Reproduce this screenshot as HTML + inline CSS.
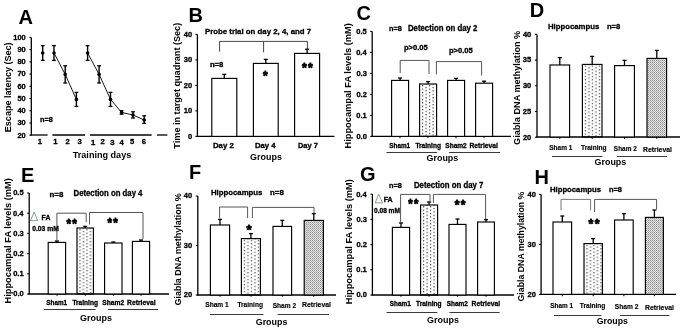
<!DOCTYPE html>
<html><head><meta charset="utf-8"><style>
html,body{margin:0;padding:0;background:#fff;}
svg{display:block;will-change:transform;}
text{font-family:"Liberation Sans",sans-serif;font-weight:bold;}
</style></head><body>
<svg width="685" height="330" viewBox="0 0 685 330">
<rect width="685" height="330" fill="#fff"/>
<defs>
<pattern id="sp" width="7" height="6.6" patternUnits="userSpaceOnUse">
<rect x="1.0" y="0.8" width="1.1" height="1.1" fill="#555"/><rect x="4.5" y="2.45" width="1.1" height="1.1" fill="#555"/>
<rect x="1.0" y="4.1" width="1.1" height="1.1" fill="#555"/><rect x="4.5" y="5.75" width="1.1" height="1.1" fill="#555"/>
</pattern>
<pattern id="dn" width="2" height="2" patternUnits="userSpaceOnUse">
<rect width="2" height="2" fill="#e4e4e4"/><rect width="1" height="1" fill="#8c8c8c"/><rect x="1" y="1" width="1" height="1" fill="#b4b4b4"/>
</pattern>
</defs>
<text x="18.6" y="23.6" font-size="20">A</text>
<text x="188.4" y="22.2" font-size="20">B</text>
<text x="356.6" y="19.6" font-size="20">C</text>
<text x="529.8" y="17.4" font-size="20">D</text>
<text x="20.9" y="182.0" font-size="20">E</text>
<text x="188.9" y="178.5" font-size="20">F</text>
<text x="360.0" y="181.0" font-size="20">G</text>
<text x="534.6" y="183.6" font-size="20">H</text>
<line x1="31.3" y1="37.4" x2="31.3" y2="135.6" stroke="#000" stroke-width="1.3"/>
<line x1="29.4" y1="135.2" x2="31.3" y2="135.2" stroke="#000" stroke-width="1.1"/>
<text transform="translate(17.43,137.50) scale(0.980,1)" font-size="7.6" stroke="#000" stroke-width="0.3">20</text>
<line x1="29.4" y1="122.975" x2="31.3" y2="122.975" stroke="#000" stroke-width="1.1"/>
<text transform="translate(17.43,125.27) scale(0.980,1)" font-size="7.6" stroke="#000" stroke-width="0.3">30</text>
<line x1="29.4" y1="110.75" x2="31.3" y2="110.75" stroke="#000" stroke-width="1.1"/>
<text transform="translate(17.43,113.05) scale(0.980,1)" font-size="7.6" stroke="#000" stroke-width="0.3">40</text>
<line x1="29.4" y1="98.52499999999999" x2="31.3" y2="98.52499999999999" stroke="#000" stroke-width="1.1"/>
<text transform="translate(17.43,100.82) scale(0.980,1)" font-size="7.6" stroke="#000" stroke-width="0.3">50</text>
<line x1="29.4" y1="86.3" x2="31.3" y2="86.3" stroke="#000" stroke-width="1.1"/>
<text transform="translate(17.43,88.60) scale(0.980,1)" font-size="7.6" stroke="#000" stroke-width="0.3">60</text>
<line x1="29.4" y1="74.07499999999999" x2="31.3" y2="74.07499999999999" stroke="#000" stroke-width="1.1"/>
<text transform="translate(17.43,76.37) scale(0.980,1)" font-size="7.6" stroke="#000" stroke-width="0.3">70</text>
<line x1="29.4" y1="61.849999999999994" x2="31.3" y2="61.849999999999994" stroke="#000" stroke-width="1.1"/>
<text transform="translate(17.43,64.15) scale(0.980,1)" font-size="7.6" stroke="#000" stroke-width="0.3">80</text>
<line x1="29.4" y1="49.625" x2="31.3" y2="49.625" stroke="#000" stroke-width="1.1"/>
<text transform="translate(17.43,51.92) scale(0.980,1)" font-size="7.6" stroke="#000" stroke-width="0.3">90</text>
<line x1="29.4" y1="37.4" x2="31.3" y2="37.4" stroke="#000" stroke-width="1.1"/>
<text transform="translate(13.29,39.70) scale(0.980,1)" font-size="7.6" stroke="#000" stroke-width="0.3">100</text>
<line x1="30.7" y1="135" x2="47.6" y2="135" stroke="#000" stroke-width="1.3"/>
<line x1="52.4" y1="135" x2="85" y2="135" stroke="#000" stroke-width="1.3"/>
<line x1="90" y1="135" x2="151.6" y2="135" stroke="#000" stroke-width="1.3"/>
<line x1="157" y1="135" x2="167.4" y2="135" stroke="#000" stroke-width="1.3"/>
<text transform="translate(37.73,144.20) scale(1.000,1)" font-size="7.7" fill="#000" stroke="#000" stroke-width="0.3">1</text>
<text transform="translate(53.33,144.20) scale(1.000,1)" font-size="7.7" fill="#000" stroke="#000" stroke-width="0.3">1</text>
<text transform="translate(65.48,144.20) scale(1.000,1)" font-size="7.7" fill="#000" stroke="#000" stroke-width="0.3">2</text>
<text transform="translate(77.51,144.20) scale(1.000,1)" font-size="7.7" fill="#000" stroke="#000" stroke-width="0.3">3</text>
<text transform="translate(90.93,144.80) scale(1.000,1)" font-size="7.7" fill="#000" stroke="#000" stroke-width="0.3">1</text>
<text transform="translate(100.48,144.20) scale(1.000,1)" font-size="7.7" fill="#000" stroke="#000" stroke-width="0.3">2</text>
<text transform="translate(110.31,145.10) scale(1.000,1)" font-size="7.7" fill="#000" stroke="#000" stroke-width="0.3">3</text>
<text transform="translate(119.42,145.00) scale(1.000,1)" font-size="7.7" fill="#000" stroke="#000" stroke-width="0.3">4</text>
<text transform="translate(130.05,144.20) scale(1.000,1)" font-size="7.7" fill="#000" stroke="#000" stroke-width="0.3">5</text>
<text transform="translate(141.66,144.20) scale(1.000,1)" font-size="7.7" fill="#000" stroke="#000" stroke-width="0.3">6</text>
<text transform="translate(72.75,157.90) scale(1.010,1)" font-size="9" fill="#000">Training days</text>
<text transform="translate(39.97,122.30) scale(0.963,1)" font-size="7.6" fill="#000" stroke="#000" stroke-width="0.3">n=8</text>
<polyline points="54,53.0 65.2,74.4 76.4,99.4" fill="none" stroke="#000" stroke-width="0.9"/>
<polyline points="87.6,53.0 99.1,74.4 110.5,99.4 121.6,112.4 133,115.0 144.2,120.0" fill="none" stroke="#000" stroke-width="0.9"/>
<line x1="42.7" y1="45.6" x2="42.7" y2="60.4" stroke="#000" stroke-width="1.4"/>
<line x1="40.800000000000004" y1="45.6" x2="44.6" y2="45.6" stroke="#000" stroke-width="1.3"/>
<line x1="40.800000000000004" y1="60.4" x2="44.6" y2="60.4" stroke="#000" stroke-width="1.3"/>
<circle cx="42.7" cy="53.0" r="1.8" fill="#000"/>
<line x1="54" y1="45.6" x2="54" y2="60.4" stroke="#000" stroke-width="1.4"/>
<line x1="52.1" y1="45.6" x2="55.9" y2="45.6" stroke="#000" stroke-width="1.3"/>
<line x1="52.1" y1="60.4" x2="55.9" y2="60.4" stroke="#000" stroke-width="1.3"/>
<circle cx="54" cy="53.0" r="1.8" fill="#000"/>
<line x1="65.2" y1="65.8" x2="65.2" y2="83.0" stroke="#000" stroke-width="1.4"/>
<line x1="63.300000000000004" y1="65.8" x2="67.10000000000001" y2="65.8" stroke="#000" stroke-width="1.3"/>
<line x1="63.300000000000004" y1="83.0" x2="67.10000000000001" y2="83.0" stroke="#000" stroke-width="1.3"/>
<circle cx="65.2" cy="74.4" r="1.8" fill="#000"/>
<line x1="76.4" y1="92.4" x2="76.4" y2="106.4" stroke="#000" stroke-width="1.4"/>
<line x1="74.5" y1="92.4" x2="78.30000000000001" y2="92.4" stroke="#000" stroke-width="1.3"/>
<line x1="74.5" y1="106.4" x2="78.30000000000001" y2="106.4" stroke="#000" stroke-width="1.3"/>
<circle cx="76.4" cy="99.4" r="1.8" fill="#000"/>
<line x1="87.6" y1="45.6" x2="87.6" y2="60.4" stroke="#000" stroke-width="1.4"/>
<line x1="85.69999999999999" y1="45.6" x2="89.5" y2="45.6" stroke="#000" stroke-width="1.3"/>
<line x1="85.69999999999999" y1="60.4" x2="89.5" y2="60.4" stroke="#000" stroke-width="1.3"/>
<circle cx="87.6" cy="53.0" r="1.8" fill="#000"/>
<line x1="99.1" y1="65.8" x2="99.1" y2="83.0" stroke="#000" stroke-width="1.4"/>
<line x1="97.19999999999999" y1="65.8" x2="101.0" y2="65.8" stroke="#000" stroke-width="1.3"/>
<line x1="97.19999999999999" y1="83.0" x2="101.0" y2="83.0" stroke="#000" stroke-width="1.3"/>
<circle cx="99.1" cy="74.4" r="1.8" fill="#000"/>
<line x1="110.5" y1="92.4" x2="110.5" y2="106.4" stroke="#000" stroke-width="1.4"/>
<line x1="108.6" y1="92.4" x2="112.4" y2="92.4" stroke="#000" stroke-width="1.3"/>
<line x1="108.6" y1="106.4" x2="112.4" y2="106.4" stroke="#000" stroke-width="1.3"/>
<circle cx="110.5" cy="99.4" r="1.8" fill="#000"/>
<line x1="121.6" y1="110.6" x2="121.6" y2="114.2" stroke="#000" stroke-width="1.4"/>
<line x1="119.69999999999999" y1="110.6" x2="123.5" y2="110.6" stroke="#000" stroke-width="1.3"/>
<line x1="119.69999999999999" y1="114.2" x2="123.5" y2="114.2" stroke="#000" stroke-width="1.3"/>
<circle cx="121.6" cy="112.4" r="1.8" fill="#000"/>
<line x1="133" y1="111.8" x2="133" y2="118.0" stroke="#000" stroke-width="1.4"/>
<line x1="131.1" y1="111.8" x2="134.9" y2="111.8" stroke="#000" stroke-width="1.3"/>
<line x1="131.1" y1="118.0" x2="134.9" y2="118.0" stroke="#000" stroke-width="1.3"/>
<circle cx="133" cy="115.0" r="1.8" fill="#000"/>
<line x1="144.2" y1="115.8" x2="144.2" y2="123.4" stroke="#000" stroke-width="1.4"/>
<line x1="142.29999999999998" y1="115.8" x2="146.1" y2="115.8" stroke="#000" stroke-width="1.3"/>
<line x1="142.29999999999998" y1="123.4" x2="146.1" y2="123.4" stroke="#000" stroke-width="1.3"/>
<circle cx="144.2" cy="120.0" r="1.8" fill="#000"/>
<text transform="translate(10.70,132.15) rotate(-90) scale(1.002,1)" font-size="9">Escape latency (Sec)</text>
<line x1="197.4" y1="34.4" x2="197.4" y2="137.0" stroke="#000" stroke-width="1.3"/>
<line x1="196.8" y1="136.4" x2="334.4" y2="136.4" stroke="#000" stroke-width="1.3"/>
<line x1="195.4" y1="136.4" x2="197.4" y2="136.4" stroke="#000" stroke-width="1.1"/>
<text transform="translate(187.92,138.70) scale(0.980,1)" font-size="7.7" stroke="#000" stroke-width="0.3">0</text>
<line x1="195.4" y1="110.9" x2="197.4" y2="110.9" stroke="#000" stroke-width="1.1"/>
<text transform="translate(183.73,113.20) scale(0.980,1)" font-size="7.7" stroke="#000" stroke-width="0.3">10</text>
<line x1="195.4" y1="85.4" x2="197.4" y2="85.4" stroke="#000" stroke-width="1.1"/>
<text transform="translate(183.73,87.70) scale(0.980,1)" font-size="7.7" stroke="#000" stroke-width="0.3">20</text>
<line x1="195.4" y1="59.900000000000006" x2="197.4" y2="59.900000000000006" stroke="#000" stroke-width="1.1"/>
<text transform="translate(183.73,62.20) scale(0.980,1)" font-size="7.7" stroke="#000" stroke-width="0.3">30</text>
<line x1="195.4" y1="34.400000000000006" x2="197.4" y2="34.400000000000006" stroke="#000" stroke-width="1.1"/>
<text transform="translate(183.73,36.70) scale(0.980,1)" font-size="7.7" stroke="#000" stroke-width="0.3">40</text>
<line x1="224.3" y1="78.4" x2="224.3" y2="74.4" stroke="#000" stroke-width="1.3"/>
<line x1="222.3" y1="74.4" x2="226.3" y2="74.4" stroke="#000" stroke-width="1.3"/>
<rect x="211.8" y="78.4" width="25.0" height="58.0" fill="#fff" stroke="#000" stroke-width="1.15"/>
<line x1="265.8" y1="63.4" x2="265.8" y2="59.4" stroke="#000" stroke-width="1.3"/>
<line x1="263.8" y1="59.4" x2="267.8" y2="59.4" stroke="#000" stroke-width="1.3"/>
<rect x="253.4" y="63.4" width="24.799999999999983" height="73.0" fill="#fff" stroke="#000" stroke-width="1.15"/>
<line x1="307.1" y1="53.4" x2="307.1" y2="49.2" stroke="#000" stroke-width="1.3"/>
<line x1="305.1" y1="49.2" x2="309.1" y2="49.2" stroke="#000" stroke-width="1.3"/>
<rect x="294.6" y="53.4" width="25.0" height="83.0" fill="#fff" stroke="#000" stroke-width="1.15"/>
<polyline points="219.6,51.6 219.6,41.4 307.4,41.4 307.4,49.2" fill="none" stroke="#444" stroke-width="1.0"/>
<line x1="263.6" y1="41.4" x2="263.6" y2="52.4" stroke="#444" stroke-width="1.0"/>
<text transform="translate(204.92,34.30) scale(0.981,1)" font-size="8.0" fill="#000" stroke="#000" stroke-width="0.3">Probe trial on day 2, 4, and 7</text>
<text transform="translate(209.94,67.10) scale(1.011,1)" font-size="7.6" fill="#000" stroke="#000" stroke-width="0.3">n=8</text>
<text transform="translate(262.91,79.84) scale(0.921,1)" font-size="13.0" stroke="#000" stroke-width="0.85" stroke-linejoin="round">*</text>
<text transform="translate(301.91,72.04) scale(0.935,1)" font-size="13.0" stroke="#000" stroke-width="0.85" stroke-linejoin="round">*</text>
<text transform="translate(307.95,72.04) scale(0.935,1)" font-size="13.0" stroke="#000" stroke-width="0.85" stroke-linejoin="round">*</text>
<text transform="translate(212.92,147.80) scale(1.033,1)" font-size="7.6" fill="#000" stroke="#000" stroke-width="0.3">Day 2</text>
<text transform="translate(254.93,147.80) scale(1.019,1)" font-size="7.6" fill="#000" stroke="#000" stroke-width="0.3">Day 4</text>
<text transform="translate(297.95,147.80) scale(0.983,1)" font-size="7.6" fill="#000" stroke="#000" stroke-width="0.3">Day 7</text>
<text transform="translate(250.08,160.00) scale(0.995,1)" font-size="9" fill="#000">Groups</text>
<text transform="translate(180.40,148.65) rotate(-90) scale(1.014,1)" font-size="9">Time in target quadrant (Sec)</text>
<line x1="372.2" y1="31.4" x2="372.2" y2="137.0" stroke="#000" stroke-width="1.3"/>
<line x1="371.59999999999997" y1="136.4" x2="511" y2="136.4" stroke="#000" stroke-width="1.3"/>
<line x1="370.2" y1="136.4" x2="372.2" y2="136.4" stroke="#000" stroke-width="1.1"/>
<text transform="translate(356.43,138.70) scale(0.980,1)" font-size="7.7" stroke="#000" stroke-width="0.3">0.0</text>
<line x1="370.2" y1="115.4" x2="372.2" y2="115.4" stroke="#000" stroke-width="1.1"/>
<text transform="translate(356.33,117.70) scale(0.980,1)" font-size="7.7" stroke="#000" stroke-width="0.3">0.1</text>
<line x1="370.2" y1="94.4" x2="372.2" y2="94.4" stroke="#000" stroke-width="1.1"/>
<text transform="translate(356.42,96.70) scale(0.980,1)" font-size="7.7" stroke="#000" stroke-width="0.3">0.2</text>
<line x1="370.2" y1="73.4" x2="372.2" y2="73.4" stroke="#000" stroke-width="1.1"/>
<text transform="translate(356.39,75.70) scale(0.980,1)" font-size="7.7" stroke="#000" stroke-width="0.3">0.3</text>
<line x1="370.2" y1="52.400000000000006" x2="372.2" y2="52.400000000000006" stroke="#000" stroke-width="1.1"/>
<text transform="translate(356.16,54.70) scale(0.980,1)" font-size="7.7" stroke="#000" stroke-width="0.3">0.4</text>
<line x1="370.2" y1="31.400000000000006" x2="372.2" y2="31.400000000000006" stroke="#000" stroke-width="1.1"/>
<text transform="translate(356.33,33.70) scale(0.980,1)" font-size="7.7" stroke="#000" stroke-width="0.3">0.5</text>
<line x1="400" y1="136.4" x2="400" y2="138.2" stroke="#000" stroke-width="1.0"/>
<line x1="428" y1="136.4" x2="428" y2="138.2" stroke="#000" stroke-width="1.0"/>
<line x1="456" y1="136.4" x2="456" y2="138.2" stroke="#000" stroke-width="1.0"/>
<line x1="484" y1="136.4" x2="484" y2="138.2" stroke="#000" stroke-width="1.0"/>
<line x1="400.1" y1="80.4" x2="400.1" y2="78.0" stroke="#000" stroke-width="1.3"/>
<line x1="398.1" y1="78.0" x2="402.1" y2="78.0" stroke="#000" stroke-width="1.3"/>
<rect x="391.6" y="80.4" width="17.0" height="56.0" fill="#fff" stroke="#000" stroke-width="1.15"/>
<pattern id="sp1" x="422.00" y="85.20" width="7" height="3.4" patternUnits="userSpaceOnUse"><rect x="0" y="0" width="1.2" height="1.2" fill="#3a3a3a"/><rect x="3.5" y="1.7" width="1.2" height="1.2" fill="#3a3a3a"/></pattern>
<line x1="428.1" y1="84.0" x2="428.1" y2="81.6" stroke="#000" stroke-width="1.3"/>
<line x1="426.1" y1="81.6" x2="430.1" y2="81.6" stroke="#000" stroke-width="1.3"/>
<rect x="419.6" y="84.0" width="17.0" height="52.400000000000006" fill="url(#sp1)" stroke="#000" stroke-width="1.15"/>
<line x1="456.1" y1="80.4" x2="456.1" y2="78.4" stroke="#000" stroke-width="1.3"/>
<line x1="454.1" y1="78.4" x2="458.1" y2="78.4" stroke="#000" stroke-width="1.3"/>
<rect x="447.6" y="80.4" width="17.0" height="56.0" fill="#fff" stroke="#000" stroke-width="1.15"/>
<line x1="484.1" y1="83.2" x2="484.1" y2="81.2" stroke="#000" stroke-width="1.3"/>
<line x1="482.1" y1="81.2" x2="486.1" y2="81.2" stroke="#000" stroke-width="1.3"/>
<rect x="475.6" y="83.2" width="17.0" height="53.2" fill="#fff" stroke="#000" stroke-width="1.15"/>
<polyline points="400.2,73.0 400.2,60.4 429,60.4 429,74.0" fill="none" stroke="#555" stroke-width="1.0"/>
<polyline points="436.4,74.4 436.4,61.6 481.6,61.6 481.6,75.6" fill="none" stroke="#555" stroke-width="1.0"/>
<text transform="translate(388.97,31.10) scale(0.938,1)" font-size="7.8" fill="#000" stroke="#000" stroke-width="0.3">n=8</text>
<text transform="translate(407.93,31.10) scale(0.954,1)" font-size="8.2" fill="#000" stroke="#000" stroke-width="0.3">Detection on day 2</text>
<text transform="translate(403.95,50.40) scale(1.025,1)" font-size="7.4" fill="#000" stroke="#000" stroke-width="0.3">p&gt;0.05</text>
<text transform="translate(448.95,52.80) scale(1.025,1)" font-size="7.4" fill="#000" stroke="#000" stroke-width="0.3">p&gt;0.05</text>
<text transform="translate(389.27,147.60) scale(0.909,1)" font-size="7.0" fill="#000" stroke="#000" stroke-width="0.3">Sham1</text>
<text transform="translate(415.38,147.60) scale(0.941,1)" font-size="7.0" fill="#000" stroke="#000" stroke-width="0.3">Training</text>
<text transform="translate(445.26,147.60) scale(0.939,1)" font-size="7.0" fill="#000" stroke="#000" stroke-width="0.3">Sham2</text>
<text transform="translate(469.40,147.60) scale(0.968,1)" font-size="7.0" fill="#000" stroke="#000" stroke-width="0.3">Retrieval</text>
<line x1="386.4" y1="152.5" x2="437" y2="152.5" stroke="#3a3a3a" stroke-width="1.0"/>
<line x1="449" y1="152.5" x2="500" y2="152.5" stroke="#3a3a3a" stroke-width="1.0"/>
<text transform="translate(426.48,160.60) scale(0.995,1)" font-size="9" fill="#000">Groups</text>
<text transform="translate(351.00,148.57) rotate(-90) scale(1.010,1)" font-size="9.2">Hippocampal FA levels (mM)</text>
<line x1="537.0" y1="34.4" x2="537.0" y2="137.6" stroke="#000" stroke-width="1.3"/>
<line x1="536.4" y1="137.0" x2="680" y2="137.0" stroke="#000" stroke-width="1.3"/>
<line x1="535.0" y1="137.2" x2="537.0" y2="137.2" stroke="#000" stroke-width="1.1"/>
<text transform="translate(522.93,139.50) scale(0.980,1)" font-size="7.7" stroke="#000" stroke-width="0.3">20</text>
<line x1="535.0" y1="111.49999999999999" x2="537.0" y2="111.49999999999999" stroke="#000" stroke-width="1.1"/>
<text transform="translate(522.83,113.80) scale(0.980,1)" font-size="7.7" stroke="#000" stroke-width="0.3">25</text>
<line x1="535.0" y1="85.79999999999998" x2="537.0" y2="85.79999999999998" stroke="#000" stroke-width="1.1"/>
<text transform="translate(522.93,88.10) scale(0.980,1)" font-size="7.7" stroke="#000" stroke-width="0.3">30</text>
<line x1="535.0" y1="60.099999999999994" x2="537.0" y2="60.099999999999994" stroke="#000" stroke-width="1.1"/>
<text transform="translate(522.83,62.40) scale(0.980,1)" font-size="7.7" stroke="#000" stroke-width="0.3">35</text>
<line x1="535.0" y1="34.39999999999999" x2="537.0" y2="34.39999999999999" stroke="#000" stroke-width="1.1"/>
<text transform="translate(522.93,36.70) scale(0.980,1)" font-size="7.7" stroke="#000" stroke-width="0.3">40</text>
<line x1="559.8" y1="137" x2="559.8" y2="138.8" stroke="#000" stroke-width="1.0"/>
<line x1="592.2" y1="137" x2="592.2" y2="138.8" stroke="#000" stroke-width="1.0"/>
<line x1="624.5" y1="137" x2="624.5" y2="138.8" stroke="#000" stroke-width="1.0"/>
<line x1="656.8" y1="137" x2="656.8" y2="138.8" stroke="#000" stroke-width="1.0"/>
<line x1="559.8" y1="65.0" x2="559.8" y2="57.6" stroke="#000" stroke-width="1.3"/>
<line x1="557.8" y1="57.6" x2="561.8" y2="57.6" stroke="#000" stroke-width="1.3"/>
<rect x="550" y="65.0" width="19.600000000000023" height="72.0" fill="#fff" stroke="#000" stroke-width="1.15"/>
<pattern id="sp2" x="584.80" y="65.60" width="7" height="3.4" patternUnits="userSpaceOnUse"><rect x="0" y="0" width="1.2" height="1.2" fill="#3a3a3a"/><rect x="3.5" y="1.7" width="1.2" height="1.2" fill="#3a3a3a"/></pattern>
<line x1="592.2" y1="64.4" x2="592.2" y2="56.4" stroke="#000" stroke-width="1.3"/>
<line x1="590.2" y1="56.4" x2="594.2" y2="56.4" stroke="#000" stroke-width="1.3"/>
<rect x="582.4" y="64.4" width="19.600000000000023" height="72.6" fill="url(#sp2)" stroke="#000" stroke-width="1.15"/>
<line x1="624.5" y1="65.6" x2="624.5" y2="60.4" stroke="#000" stroke-width="1.3"/>
<line x1="622.5" y1="60.4" x2="626.5" y2="60.4" stroke="#000" stroke-width="1.3"/>
<rect x="614.6" y="65.6" width="19.799999999999955" height="71.4" fill="#fff" stroke="#000" stroke-width="1.15"/>
<line x1="656.8" y1="58.4" x2="656.8" y2="50.4" stroke="#000" stroke-width="1.3"/>
<line x1="654.8" y1="50.4" x2="658.8" y2="50.4" stroke="#000" stroke-width="1.3"/>
<rect x="647" y="58.4" width="19.600000000000023" height="78.6" fill="url(#dn)" stroke="#000" stroke-width="1.15"/>
<text transform="translate(547.93,28.80) scale(0.971,1)" font-size="8.0" fill="#000" stroke="#000" stroke-width="0.3">Hippocampus</text>
<text transform="translate(606.95,28.80) scale(0.945,1)" font-size="8.0" fill="#000" stroke="#000" stroke-width="0.3">n=8</text>
<text transform="translate(549.26,150.40) scale(0.901,1)" font-size="7.2" fill="#000" stroke="#000" stroke-width="0.15">Sham 1</text>
<text transform="translate(580.98,149.80) scale(0.915,1)" font-size="7.2" fill="#000" stroke="#000" stroke-width="0.15">Training</text>
<text transform="translate(613.86,151.40) scale(0.896,1)" font-size="7.2" fill="#000" stroke="#000" stroke-width="0.15">Sham 2</text>
<text transform="translate(642.99,151.60) scale(0.955,1)" font-size="7.2" fill="#000" stroke="#000" stroke-width="0.15">Retrieval</text>
<line x1="552" y1="156.5" x2="602.4" y2="156.5" stroke="#3a3a3a" stroke-width="1.0"/>
<line x1="617" y1="156.5" x2="667" y2="156.5" stroke="#3a3a3a" stroke-width="1.0"/>
<text transform="translate(594.48,165.00) scale(0.995,1)" font-size="9" fill="#000">Groups</text>
<text transform="translate(519.80,144.92) rotate(-90) scale(1.015,1)" font-size="9">Giabla DNA methylation %</text>
<line x1="29.2" y1="193.0" x2="29.2" y2="294.6" stroke="#000" stroke-width="1.3"/>
<line x1="28.599999999999998" y1="294.0" x2="169" y2="294.0" stroke="#000" stroke-width="1.3"/>
<line x1="27.2" y1="294.0" x2="29.2" y2="294.0" stroke="#000" stroke-width="1.1"/>
<text transform="translate(13.23,296.30) scale(0.980,1)" font-size="7.7" stroke="#000" stroke-width="0.3">0.0</text>
<line x1="27.2" y1="273.8" x2="29.2" y2="273.8" stroke="#000" stroke-width="1.1"/>
<text transform="translate(13.13,276.10) scale(0.980,1)" font-size="7.7" stroke="#000" stroke-width="0.3">0.1</text>
<line x1="27.2" y1="253.6" x2="29.2" y2="253.6" stroke="#000" stroke-width="1.1"/>
<text transform="translate(13.22,255.90) scale(0.980,1)" font-size="7.7" stroke="#000" stroke-width="0.3">0.2</text>
<line x1="27.2" y1="233.4" x2="29.2" y2="233.4" stroke="#000" stroke-width="1.1"/>
<text transform="translate(13.19,235.70) scale(0.980,1)" font-size="7.7" stroke="#000" stroke-width="0.3">0.3</text>
<line x1="27.2" y1="213.2" x2="29.2" y2="213.2" stroke="#000" stroke-width="1.1"/>
<text transform="translate(12.96,215.50) scale(0.980,1)" font-size="7.7" stroke="#000" stroke-width="0.3">0.4</text>
<line x1="27.2" y1="193.0" x2="29.2" y2="193.0" stroke="#000" stroke-width="1.1"/>
<text transform="translate(13.13,195.30) scale(0.980,1)" font-size="7.7" stroke="#000" stroke-width="0.3">0.5</text>
<line x1="57" y1="294" x2="57" y2="295.8" stroke="#000" stroke-width="1.0"/>
<line x1="85.3" y1="294" x2="85.3" y2="295.8" stroke="#000" stroke-width="1.0"/>
<line x1="113.4" y1="294" x2="113.4" y2="295.8" stroke="#000" stroke-width="1.0"/>
<line x1="141" y1="294" x2="141" y2="295.8" stroke="#000" stroke-width="1.0"/>
<line x1="56.9" y1="242.4" x2="56.9" y2="241.0" stroke="#000" stroke-width="1.3"/>
<line x1="54.9" y1="241.0" x2="58.9" y2="241.0" stroke="#000" stroke-width="1.3"/>
<rect x="48.2" y="242.4" width="17.39999999999999" height="51.599999999999994" fill="#fff" stroke="#000" stroke-width="1.15"/>
<pattern id="sp3" x="79.40" y="229.20" width="7" height="3.4" patternUnits="userSpaceOnUse"><rect x="0" y="0" width="1.2" height="1.2" fill="#3a3a3a"/><rect x="3.5" y="1.7" width="1.2" height="1.2" fill="#3a3a3a"/></pattern>
<line x1="85.2" y1="228.0" x2="85.2" y2="226.4" stroke="#000" stroke-width="1.3"/>
<line x1="83.2" y1="226.4" x2="87.2" y2="226.4" stroke="#000" stroke-width="1.3"/>
<rect x="77" y="228.0" width="16.400000000000006" height="66.0" fill="url(#sp3)" stroke="#000" stroke-width="1.15"/>
<line x1="113.3" y1="243.0" x2="113.3" y2="242.0" stroke="#000" stroke-width="1.3"/>
<line x1="111.3" y1="242.0" x2="115.3" y2="242.0" stroke="#000" stroke-width="1.3"/>
<rect x="104.6" y="243.0" width="17.400000000000006" height="51.0" fill="#fff" stroke="#000" stroke-width="1.15"/>
<line x1="141.0" y1="241.4" x2="141.0" y2="240.0" stroke="#000" stroke-width="1.3"/>
<line x1="139.0" y1="240.0" x2="143.0" y2="240.0" stroke="#000" stroke-width="1.3"/>
<rect x="132.4" y="241.4" width="17.19999999999999" height="52.599999999999994" fill="#fff" stroke="#000" stroke-width="1.15"/>
<polyline points="56.9,241.0 56.9,213.2 86.2,213.2 86.2,222.2" fill="none" stroke="#555" stroke-width="1.0"/>
<polyline points="89.5,224.4 89.5,212.5 143,212.5 143,239.0" fill="none" stroke="#555" stroke-width="1.0"/>
<text transform="translate(49.53,197.20) scale(1.016,1)" font-size="7.8" fill="#000" stroke="#000" stroke-width="0.3">n=8</text>
<text transform="translate(73.53,196.20) scale(0.947,1)" font-size="8.2" fill="#000" stroke="#000" stroke-width="0.3">Detection on day 4</text>
<polygon points="34.2,212.0 30.5,220.6 37.6,220.6" fill="none" stroke="#6f9a6f" stroke-width="0.9"/>
<text transform="translate(41.59,220.20) scale(1.037,1)" font-size="6.6" fill="#000" stroke="#000" stroke-width="0.3">FA</text>
<text transform="translate(32.19,231.10) scale(1.022,1)" font-size="6.6" fill="#000" stroke="#000" stroke-width="0.3">0.03 mM</text>
<text transform="translate(66.41,228.34) scale(0.906,1)" font-size="13.0" stroke="#000" stroke-width="0.85" stroke-linejoin="round">*</text>
<text transform="translate(72.29,228.34) scale(0.906,1)" font-size="13.0" stroke="#000" stroke-width="0.85" stroke-linejoin="round">*</text>
<text transform="translate(107.42,227.24) scale(0.887,1)" font-size="13.0" stroke="#000" stroke-width="0.85" stroke-linejoin="round">*</text>
<text transform="translate(113.19,227.24) scale(0.887,1)" font-size="13.0" stroke="#000" stroke-width="0.85" stroke-linejoin="round">*</text>
<text transform="translate(46.27,305.00) scale(0.909,1)" font-size="7.0" fill="#000" stroke="#000" stroke-width="0.3">Sham1</text>
<text transform="translate(72.38,305.00) scale(0.941,1)" font-size="7.0" fill="#000" stroke="#000" stroke-width="0.3">Training</text>
<text transform="translate(102.26,305.00) scale(0.957,1)" font-size="7.0" fill="#000" stroke="#000" stroke-width="0.3">Sham2</text>
<text transform="translate(127.00,305.00) scale(0.968,1)" font-size="7.0" fill="#000" stroke="#000" stroke-width="0.3">Retrieval</text>
<line x1="44" y1="309.5" x2="95.6" y2="309.5" stroke="#3a3a3a" stroke-width="1.0"/>
<line x1="108" y1="309.5" x2="158" y2="309.5" stroke="#3a3a3a" stroke-width="1.0"/>
<text transform="translate(80.08,320.60) scale(0.995,1)" font-size="9" fill="#000">Groups</text>
<text transform="translate(10.80,303.57) rotate(-90) scale(1.010,1)" font-size="9.2">Hippocampal FA levels (mM)</text>
<line x1="197.8" y1="196.0" x2="197.8" y2="295.6" stroke="#000" stroke-width="1.3"/>
<line x1="197.20000000000002" y1="295.0" x2="336" y2="295.0" stroke="#000" stroke-width="1.3"/>
<line x1="195.8" y1="295.0" x2="197.8" y2="295.0" stroke="#000" stroke-width="1.1"/>
<text transform="translate(183.73,297.30) scale(0.980,1)" font-size="7.7" stroke="#000" stroke-width="0.3">20</text>
<line x1="195.8" y1="245.5" x2="197.8" y2="245.5" stroke="#000" stroke-width="1.1"/>
<text transform="translate(183.73,247.80) scale(0.980,1)" font-size="7.7" stroke="#000" stroke-width="0.3">30</text>
<line x1="195.8" y1="196.0" x2="197.8" y2="196.0" stroke="#000" stroke-width="1.1"/>
<text transform="translate(183.73,198.30) scale(0.980,1)" font-size="7.7" stroke="#000" stroke-width="0.3">40</text>
<line x1="220" y1="295" x2="220" y2="296.8" stroke="#000" stroke-width="1.0"/>
<line x1="251" y1="295" x2="251" y2="296.8" stroke="#000" stroke-width="1.0"/>
<line x1="282.3" y1="295" x2="282.3" y2="296.8" stroke="#000" stroke-width="1.0"/>
<line x1="313.7" y1="295" x2="313.7" y2="296.8" stroke="#000" stroke-width="1.0"/>
<line x1="220.0" y1="225.0" x2="220.0" y2="219.4" stroke="#000" stroke-width="1.3"/>
<line x1="218.0" y1="219.4" x2="222.0" y2="219.4" stroke="#000" stroke-width="1.3"/>
<rect x="210.4" y="225.0" width="19.19999999999999" height="70.0" fill="#fff" stroke="#000" stroke-width="1.15"/>
<pattern id="sp4" x="243.80" y="239.80" width="7" height="3.4" patternUnits="userSpaceOnUse"><rect x="0" y="0" width="1.2" height="1.2" fill="#3a3a3a"/><rect x="3.5" y="1.7" width="1.2" height="1.2" fill="#3a3a3a"/></pattern>
<line x1="250.89999999999998" y1="238.6" x2="250.89999999999998" y2="233.6" stroke="#000" stroke-width="1.3"/>
<line x1="248.89999999999998" y1="233.6" x2="252.89999999999998" y2="233.6" stroke="#000" stroke-width="1.3"/>
<rect x="241.4" y="238.6" width="18.99999999999997" height="56.400000000000006" fill="url(#sp4)" stroke="#000" stroke-width="1.15"/>
<line x1="282.3" y1="226.4" x2="282.3" y2="220.4" stroke="#000" stroke-width="1.3"/>
<line x1="280.3" y1="220.4" x2="284.3" y2="220.4" stroke="#000" stroke-width="1.3"/>
<rect x="273" y="226.4" width="18.600000000000023" height="68.6" fill="#fff" stroke="#000" stroke-width="1.15"/>
<line x1="313.79999999999995" y1="220.4" x2="313.79999999999995" y2="213.6" stroke="#000" stroke-width="1.3"/>
<line x1="311.79999999999995" y1="213.6" x2="315.79999999999995" y2="213.6" stroke="#000" stroke-width="1.3"/>
<rect x="304.2" y="220.4" width="19.19999999999999" height="74.6" fill="url(#dn)" stroke="#000" stroke-width="1.15"/>
<polyline points="219.6,218.2 219.6,207.0 247.6,207.0 247.6,218.0" fill="none" stroke="#555" stroke-width="1.0"/>
<polyline points="252.4,218.0 252.4,207.4 314,207.4 314,213.6" fill="none" stroke="#555" stroke-width="1.0"/>
<text transform="translate(210.93,195.30) scale(0.975,1)" font-size="8.0" fill="#000" stroke="#000" stroke-width="0.3">Hippocampus</text>
<text transform="translate(269.93,195.30) scale(0.991,1)" font-size="8.0" fill="#000" stroke="#000" stroke-width="0.3">n=8</text>
<text transform="translate(246.51,233.64) scale(1.002,1)" font-size="13.0" stroke="#000" stroke-width="0.85" stroke-linejoin="round">*</text>
<text transform="translate(205.26,306.80) scale(0.917,1)" font-size="7.2" fill="#000" stroke="#000" stroke-width="0.15">Sham 1</text>
<text transform="translate(237.38,306.80) scale(0.915,1)" font-size="7.2" fill="#000" stroke="#000" stroke-width="0.15">Training</text>
<text transform="translate(272.66,307.60) scale(0.920,1)" font-size="7.2" fill="#000" stroke="#000" stroke-width="0.15">Sham 2</text>
<text transform="translate(301.99,307.40) scale(0.955,1)" font-size="7.2" fill="#000" stroke="#000" stroke-width="0.15">Retrieval</text>
<line x1="210" y1="314.5" x2="263.4" y2="314.5" stroke="#3a3a3a" stroke-width="1.0"/>
<line x1="277.6" y1="314.5" x2="329" y2="314.5" stroke="#3a3a3a" stroke-width="1.0"/>
<text transform="translate(255.68,325.00) scale(0.995,1)" font-size="9" fill="#000">Groups</text>
<text transform="translate(180.60,305.52) rotate(-90) scale(0.997,1)" font-size="9">Giabla DNA methylation %</text>
<line x1="372.4" y1="194.0" x2="372.4" y2="295.6" stroke="#000" stroke-width="1.3"/>
<line x1="371.79999999999995" y1="295.0" x2="514" y2="295.0" stroke="#000" stroke-width="1.3"/>
<line x1="370.4" y1="295.0" x2="372.4" y2="295.0" stroke="#000" stroke-width="1.1"/>
<text transform="translate(356.43,297.30) scale(0.980,1)" font-size="7.7" stroke="#000" stroke-width="0.3">0.0</text>
<line x1="370.4" y1="269.8" x2="372.4" y2="269.8" stroke="#000" stroke-width="1.1"/>
<text transform="translate(356.33,272.10) scale(0.980,1)" font-size="7.7" stroke="#000" stroke-width="0.3">0.1</text>
<line x1="370.4" y1="244.6" x2="372.4" y2="244.6" stroke="#000" stroke-width="1.1"/>
<text transform="translate(356.42,246.90) scale(0.980,1)" font-size="7.7" stroke="#000" stroke-width="0.3">0.2</text>
<line x1="370.4" y1="219.4" x2="372.4" y2="219.4" stroke="#000" stroke-width="1.1"/>
<text transform="translate(356.39,221.70) scale(0.980,1)" font-size="7.7" stroke="#000" stroke-width="0.3">0.3</text>
<line x1="370.4" y1="194.2" x2="372.4" y2="194.2" stroke="#000" stroke-width="1.1"/>
<text transform="translate(356.16,196.50) scale(0.980,1)" font-size="7.7" stroke="#000" stroke-width="0.3">0.4</text>
<line x1="401" y1="295" x2="401" y2="296.8" stroke="#000" stroke-width="1.0"/>
<line x1="429" y1="295" x2="429" y2="296.8" stroke="#000" stroke-width="1.0"/>
<line x1="457.5" y1="295" x2="457.5" y2="296.8" stroke="#000" stroke-width="1.0"/>
<line x1="486" y1="295" x2="486" y2="296.8" stroke="#000" stroke-width="1.0"/>
<line x1="401.0" y1="227.4" x2="401.0" y2="223.0" stroke="#000" stroke-width="1.3"/>
<line x1="399.0" y1="223.0" x2="403.0" y2="223.0" stroke="#000" stroke-width="1.3"/>
<rect x="392.4" y="227.4" width="17.200000000000045" height="67.6" fill="#fff" stroke="#000" stroke-width="1.15"/>
<pattern id="sp5" x="423.00" y="206.20" width="7" height="3.4" patternUnits="userSpaceOnUse"><rect x="0" y="0" width="1.2" height="1.2" fill="#3a3a3a"/><rect x="3.5" y="1.7" width="1.2" height="1.2" fill="#3a3a3a"/></pattern>
<line x1="429.1" y1="205.0" x2="429.1" y2="202.0" stroke="#000" stroke-width="1.3"/>
<line x1="427.1" y1="202.0" x2="431.1" y2="202.0" stroke="#000" stroke-width="1.3"/>
<rect x="420.6" y="205.0" width="17.0" height="90.0" fill="url(#sp5)" stroke="#000" stroke-width="1.15"/>
<line x1="457.5" y1="224.4" x2="457.5" y2="219.0" stroke="#000" stroke-width="1.3"/>
<line x1="455.5" y1="219.0" x2="459.5" y2="219.0" stroke="#000" stroke-width="1.3"/>
<rect x="449" y="224.4" width="17" height="70.6" fill="#fff" stroke="#000" stroke-width="1.15"/>
<line x1="486.0" y1="222.0" x2="486.0" y2="219.6" stroke="#000" stroke-width="1.3"/>
<line x1="484.0" y1="219.6" x2="488.0" y2="219.6" stroke="#000" stroke-width="1.3"/>
<rect x="477.6" y="222.0" width="16.799999999999955" height="73.0" fill="#fff" stroke="#000" stroke-width="1.15"/>
<polyline points="400.6,223.0 400.6,194.4 430,194.4 430,202.0" fill="none" stroke="#555" stroke-width="1.0"/>
<polyline points="433.4,203.0 433.4,194.4 485.6,194.4 485.6,219.0" fill="none" stroke="#555" stroke-width="1.0"/>
<text transform="translate(388.97,188.00) scale(0.938,1)" font-size="7.8" fill="#000" stroke="#000" stroke-width="0.3">n=8</text>
<text transform="translate(413.93,188.20) scale(0.954,1)" font-size="8.2" fill="#000" stroke="#000" stroke-width="0.3">Detection on day 7</text>
<polygon points="378.6,194.2 375.3,202.9 382.6,202.9" fill="none" stroke="#6f9a6f" stroke-width="0.9"/>
<text transform="translate(383.67,202.00) scale(1.075,1)" font-size="6.6" fill="#000" stroke="#000" stroke-width="0.3">FA</text>
<text transform="translate(373.99,213.30) scale(0.999,1)" font-size="6.6" fill="#000" stroke="#000" stroke-width="0.3">0.08 mM</text>
<text transform="translate(408.32,207.94) scale(0.868,1)" font-size="13.0" stroke="#000" stroke-width="0.85" stroke-linejoin="round">*</text>
<text transform="translate(413.98,207.94) scale(0.868,1)" font-size="13.0" stroke="#000" stroke-width="0.85" stroke-linejoin="round">*</text>
<text transform="translate(454.81,208.64) scale(0.935,1)" font-size="13.0" stroke="#000" stroke-width="0.85" stroke-linejoin="round">*</text>
<text transform="translate(460.85,208.64) scale(0.935,1)" font-size="13.0" stroke="#000" stroke-width="0.85" stroke-linejoin="round">*</text>
<text transform="translate(389.87,306.40) scale(0.909,1)" font-size="7.0" fill="#000" stroke="#000" stroke-width="0.3">Sham1</text>
<text transform="translate(415.98,306.40) scale(0.941,1)" font-size="7.0" fill="#000" stroke="#000" stroke-width="0.3">Training</text>
<text transform="translate(446.66,306.40) scale(0.922,1)" font-size="7.0" fill="#000" stroke="#000" stroke-width="0.3">Sham2</text>
<text transform="translate(471.60,306.40) scale(0.961,1)" font-size="7.0" fill="#000" stroke="#000" stroke-width="0.3">Retrieval</text>
<line x1="386.6" y1="312.5" x2="437.4" y2="312.5" stroke="#3a3a3a" stroke-width="1.0"/>
<line x1="449.4" y1="312.5" x2="499.6" y2="312.5" stroke="#3a3a3a" stroke-width="1.0"/>
<text transform="translate(427.08,323.00) scale(0.995,1)" font-size="9" fill="#000">Groups</text>
<text transform="translate(352.20,304.17) rotate(-90) scale(1.006,1)" font-size="9.2">Hippocampal FA levels (mM)</text>
<line x1="541.1" y1="194.4" x2="541.1" y2="295.0" stroke="#000" stroke-width="1.3"/>
<line x1="540.5" y1="294.4" x2="676" y2="294.4" stroke="#000" stroke-width="1.3"/>
<line x1="539.1" y1="294.4" x2="541.1" y2="294.4" stroke="#000" stroke-width="1.1"/>
<text transform="translate(527.53,296.70) scale(0.980,1)" font-size="7.7" stroke="#000" stroke-width="0.3">20</text>
<line x1="539.1" y1="244.39999999999998" x2="541.1" y2="244.39999999999998" stroke="#000" stroke-width="1.1"/>
<text transform="translate(527.53,246.70) scale(0.980,1)" font-size="7.7" stroke="#000" stroke-width="0.3">30</text>
<line x1="539.1" y1="194.39999999999998" x2="541.1" y2="194.39999999999998" stroke="#000" stroke-width="1.1"/>
<text transform="translate(527.53,196.70) scale(0.980,1)" font-size="7.7" stroke="#000" stroke-width="0.3">40</text>
<line x1="562.3" y1="294.4" x2="562.3" y2="296.2" stroke="#000" stroke-width="1.0"/>
<line x1="593.2" y1="294.4" x2="593.2" y2="296.2" stroke="#000" stroke-width="1.0"/>
<line x1="623.9" y1="294.4" x2="623.9" y2="296.2" stroke="#000" stroke-width="1.0"/>
<line x1="654.4" y1="294.4" x2="654.4" y2="296.2" stroke="#000" stroke-width="1.0"/>
<line x1="562.3" y1="222.0" x2="562.3" y2="216.0" stroke="#000" stroke-width="1.3"/>
<line x1="560.3" y1="216.0" x2="564.3" y2="216.0" stroke="#000" stroke-width="1.3"/>
<rect x="553" y="222.0" width="18.600000000000023" height="72.39999999999998" fill="#fff" stroke="#000" stroke-width="1.15"/>
<pattern id="sp6" x="586.40" y="244.80" width="7" height="3.4" patternUnits="userSpaceOnUse"><rect x="0" y="0" width="1.2" height="1.2" fill="#3a3a3a"/><rect x="3.5" y="1.7" width="1.2" height="1.2" fill="#3a3a3a"/></pattern>
<line x1="593.2" y1="243.6" x2="593.2" y2="238.6" stroke="#000" stroke-width="1.3"/>
<line x1="591.2" y1="238.6" x2="595.2" y2="238.6" stroke="#000" stroke-width="1.3"/>
<rect x="584" y="243.6" width="18.399999999999977" height="50.79999999999998" fill="url(#sp6)" stroke="#000" stroke-width="1.15"/>
<line x1="623.9000000000001" y1="220.0" x2="623.9000000000001" y2="213.6" stroke="#000" stroke-width="1.3"/>
<line x1="621.9000000000001" y1="213.6" x2="625.9000000000001" y2="213.6" stroke="#000" stroke-width="1.3"/>
<rect x="614.6" y="220.0" width="18.600000000000023" height="74.39999999999998" fill="#fff" stroke="#000" stroke-width="1.15"/>
<line x1="654.4" y1="217.4" x2="654.4" y2="210.0" stroke="#000" stroke-width="1.3"/>
<line x1="652.4" y1="210.0" x2="656.4" y2="210.0" stroke="#000" stroke-width="1.3"/>
<rect x="645.4" y="217.4" width="18.0" height="76.99999999999997" fill="url(#dn)" stroke="#000" stroke-width="1.15"/>
<polyline points="561,210.4 561,199.4 590.6,199.4 590.6,210.4" fill="none" stroke="#777" stroke-width="1.0"/>
<polyline points="594.6,212.0 594.6,199.4 656.6,199.4 656.6,209.6" fill="none" stroke="#555" stroke-width="1.0"/>
<text transform="translate(549.93,192.40) scale(0.967,1)" font-size="8.0" fill="#000" stroke="#000" stroke-width="0.3">Hippocampus</text>
<text transform="translate(608.96,192.40) scale(0.930,1)" font-size="8.0" fill="#000" stroke="#000" stroke-width="0.3">n=8</text>
<text transform="translate(588.61,227.64) scale(0.954,1)" font-size="13.0" stroke="#000" stroke-width="0.85" stroke-linejoin="round">*</text>
<text transform="translate(594.75,227.64) scale(0.954,1)" font-size="13.0" stroke="#000" stroke-width="0.85" stroke-linejoin="round">*</text>
<text transform="translate(550.26,308.40) scale(0.893,1)" font-size="7.2" fill="#000" stroke="#000" stroke-width="0.15">Sham 1</text>
<text transform="translate(579.78,308.40) scale(0.915,1)" font-size="7.2" fill="#000" stroke="#000" stroke-width="0.15">Training</text>
<text transform="translate(614.86,309.40) scale(0.920,1)" font-size="7.2" fill="#000" stroke="#000" stroke-width="0.15">Sham 2</text>
<text transform="translate(644.99,309.80) scale(0.955,1)" font-size="7.2" fill="#000" stroke="#000" stroke-width="0.15">Retrieval</text>
<line x1="554" y1="315.5" x2="601.4" y2="315.5" stroke="#3a3a3a" stroke-width="1.0"/>
<line x1="620" y1="315.5" x2="669.4" y2="315.5" stroke="#3a3a3a" stroke-width="1.0"/>
<text transform="translate(596.69,324.00) scale(0.976,1)" font-size="9" fill="#000">Groups</text>
<text transform="translate(523.60,301.51) rotate(-90) scale(0.979,1)" font-size="9">Giabla DNA methylation %</text>
</svg>
</body></html>
